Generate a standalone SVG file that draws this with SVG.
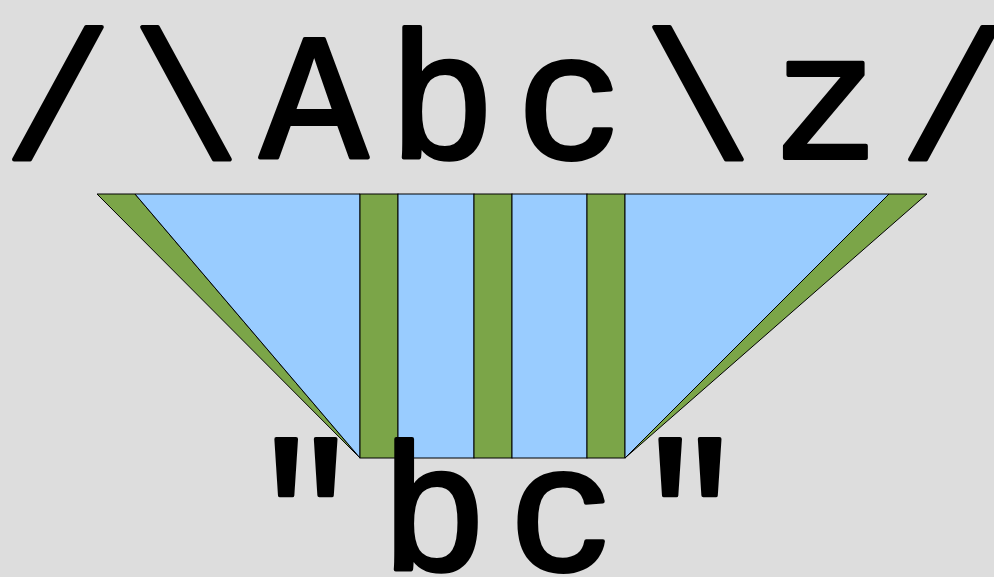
<svg xmlns="http://www.w3.org/2000/svg" width="994" height="577" viewBox="0 0 994 577">
<style>
.t{font-family:"Liberation Mono","DejaVu Sans Mono",monospace;font-weight:normal;font-size:180px;fill:#000;stroke:#000;stroke-width:4;stroke-linejoin:round;stroke-linecap:round;text-anchor:middle}
.g{fill:#7ba548;stroke:#000;stroke-width:1}
.b{fill:#99ccff;stroke:#000;stroke-width:1}
</style>
<rect width="994" height="577" fill="#dddddd"/>
<g id="pattern"><text class="t" x="58 186 314 442 570 698 826 954" y="158">/\Abc\z/</text></g>
<g id="shapes">
<polygon class="g" points="97,194 135,194 360,458"/>
<polygon class="b" points="135,194 360,194 360,458"/>
<rect class="g" x="360" y="194" width="38" height="264"/>
<rect class="b" x="398" y="194" width="76" height="264"/>
<rect class="g" x="474" y="194" width="38" height="264"/>
<rect class="b" x="512" y="194" width="75" height="264"/>
<rect class="g" x="587" y="194" width="38" height="264"/>
<polygon class="b" points="625,194 889,194 625,458"/>
<polygon class="g" points="889,194 927,194 625,458"/>
</g>
<g id="result"><text class="t" x="306 434 562 690" y="570">"bc"</text></g>
</svg>
